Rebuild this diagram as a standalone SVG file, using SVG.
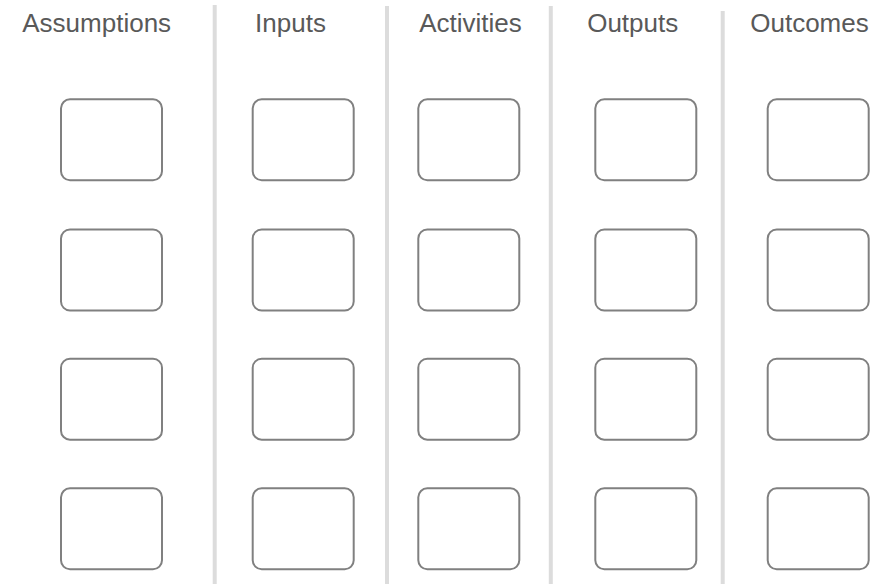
<svg xmlns="http://www.w3.org/2000/svg" width="888" height="584" viewBox="0 0 888 584">
<style>
.hd{font-family:"Liberation Sans",Arial,sans-serif;font-size:26px;fill:#595959;text-anchor:middle}
.dv{stroke:#dcdcdc;stroke-width:4}
.bx{fill:#fff;stroke:#808080;stroke-width:2}
</style>
<rect width="888" height="584" fill="#fff"/>
<g id="dividers">
<line class="dv" x1="214.7" y1="5" x2="214.7" y2="584"/>
<line class="dv" x1="387" y1="6" x2="387" y2="584"/>
<line class="dv" x1="550.8" y1="6" x2="550.8" y2="584"/>
<line class="dv" x1="722.7" y1="11" x2="722.7" y2="584"/>
</g>
<g id="headers">
<text class="hd" x="96.7" y="32.3">Assumptions</text>
<text class="hd" x="290.5" y="32.3">Inputs</text>
<text class="hd" x="470.5" y="32.3">Activities</text>
<text class="hd" x="632.7" y="32.3">Outputs</text>
<text class="hd" x="809.5" y="32.3">Outcomes</text>
</g>
<g id="col-assumptions">
<g id="a1"><rect class="bx" x="61" y="99.3" width="101" height="81" rx="9"/></g>
<g id="a2"><rect class="bx" x="61" y="229.5" width="101" height="81" rx="9"/></g>
<g id="a3"><rect class="bx" x="61" y="358.7" width="101" height="81" rx="9"/></g>
<g id="a4"><rect class="bx" x="61" y="488.3" width="101" height="81" rx="9"/></g>
</g>
<g id="col-inputs">
<g id="i1"><rect class="bx" x="252.7" y="99.3" width="101" height="81" rx="9"/></g>
<g id="i2"><rect class="bx" x="252.7" y="229.5" width="101" height="81" rx="9"/></g>
<g id="i3"><rect class="bx" x="252.7" y="358.7" width="101" height="81" rx="9"/></g>
<g id="i4"><rect class="bx" x="252.7" y="488.3" width="101" height="81" rx="9"/></g>
</g>
<g id="col-activities">
<g id="ac1"><rect class="bx" x="418.3" y="99.3" width="101" height="81" rx="9"/></g>
<g id="ac2"><rect class="bx" x="418.3" y="229.5" width="101" height="81" rx="9"/></g>
<g id="ac3"><rect class="bx" x="418.3" y="358.7" width="101" height="81" rx="9"/></g>
<g id="ac4"><rect class="bx" x="418.3" y="488.3" width="101" height="81" rx="9"/></g>
</g>
<g id="col-outputs">
<g id="o1"><rect class="bx" x="595.3" y="99.3" width="101" height="81" rx="9"/></g>
<g id="o2"><rect class="bx" x="595.3" y="229.5" width="101" height="81" rx="9"/></g>
<g id="o3"><rect class="bx" x="595.3" y="358.7" width="101" height="81" rx="9"/></g>
<g id="o4"><rect class="bx" x="595.3" y="488.3" width="101" height="81" rx="9"/></g>
</g>
<g id="col-outcomes">
<g id="oc1"><rect class="bx" x="767.7" y="99.3" width="101" height="81" rx="9"/></g>
<g id="oc2"><rect class="bx" x="767.7" y="229.5" width="101" height="81" rx="9"/></g>
<g id="oc3"><rect class="bx" x="767.7" y="358.7" width="101" height="81" rx="9"/></g>
<g id="oc4"><rect class="bx" x="767.7" y="488.3" width="101" height="81" rx="9"/></g>
</g>
</svg>
